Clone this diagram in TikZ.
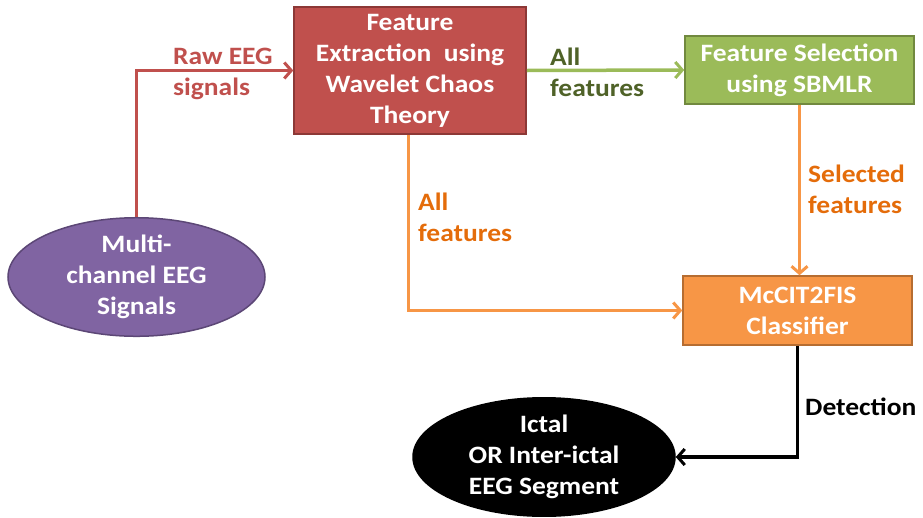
\documentclass[tikz,border=0pt]{standalone}
\usepackage{fontspec}
\setmainfont{Carlito}[FakeStretch=1.1]
\usetikzlibrary{shapes.geometric,arrows.meta}
\definecolor{redF}{HTML}{C0504D}
\definecolor{redD}{HTML}{8C3836}
\definecolor{greenF}{HTML}{9BBB59}
\definecolor{greenD}{HTML}{71893F}
\definecolor{greenT}{HTML}{4F6228}
\definecolor{orangeF}{HTML}{F79646}
\definecolor{orangeD}{HTML}{B66D31}
\definecolor{orangeT}{HTML}{E46C0A}
\definecolor{purpleF}{HTML}{8064A2}
\definecolor{purpleD}{HTML}{5C4776}
\tikzset{
  txt/.style={font=\fontsize{25}{31}\selectfont\bfseries, align=center, inner sep=0pt},
  box/.style={txt, draw, line width=1.5pt, text=white},
  lbl/.style={font=\fontsize{25}{31}\selectfont\bfseries, align=left, inner sep=0pt, anchor=north west},
  conn/.style={line width=3.5pt, -{Straight Barb[length=7pt,width=16pt,line width=3pt]}},
}
\begin{document}
\begin{tikzpicture}[x=1pt,y=-1pt]
\useasboundingbox (0,0) rectangle (923,517);
\node[box, fill=redF, draw=redD, minimum width=232pt, minimum height=127pt] (red) at (410,70.5)
  {Feature\\Extraction\ \ using\\Wavelet Chaos\\Theory};
\node[box, fill=greenF, draw=greenD, minimum width=229pt, minimum height=68pt] (green) at (799.5,70)
  {Feature Selection\\using SBMLR};
\node[box, fill=orangeF, draw=orangeD, minimum width=229pt, minimum height=69pt] (orange) at (797.5,310.5)
  {McCIT2FIS\\Classifier};
\node[box, ellipse, fill=purpleF, draw=purpleD, minimum width=257pt, minimum height=105pt] (purple) at (136.5,277)
  {Multi-\\channel EEG\\Signals};
\node[box, ellipse, fill=black, draw=black, minimum width=262pt, minimum height=110pt] (out) at (544,457)
  {Ictal\\OR Inter-ictal\\EEG Segment};
\draw[conn, redF] (purple.north) |- (red.west);
\draw[conn, greenF] (red.east) -- (green.west);
\draw[conn, orangeF] ([xshift=115pt]red.south west) |- (orange.west);
\draw[conn, orangeF] (green.south) -- (green.south |- orange.north);
\draw[conn, black] (orange.south) |- (out.east);
\node[lbl, text=redF] (l1) at (173,48) {Raw EEG\\signals};
\node[lbl, text=greenT] (l2) at (550,48) {All\\features};
\node[lbl, text=orangeT] (l3) at (418,193) {All\\features};
\node[lbl, text=orangeT] (l4) at (808,165) {Selected\\features};
\node[lbl, text=black] (l5) at (805,398) {Detection};
\end{tikzpicture}
\end{document}
